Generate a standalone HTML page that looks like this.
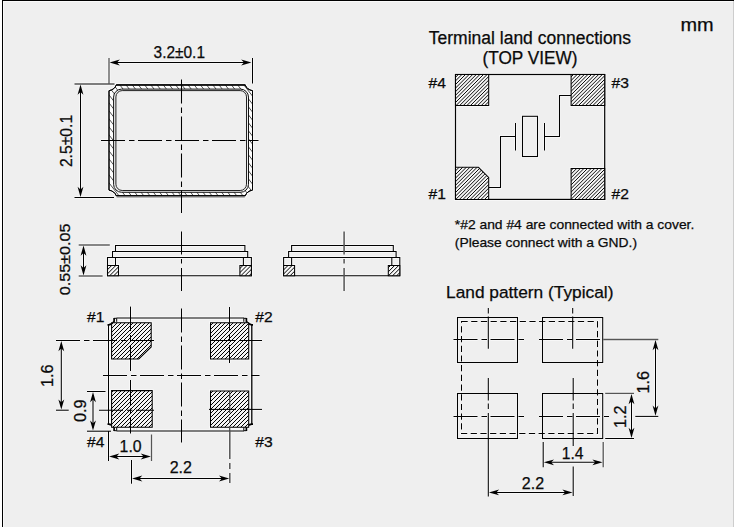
<!DOCTYPE html>
<html><head><meta charset="utf-8"><title>Dimensions</title>
<style>
html,body{margin:0;padding:0;background:#fff;}
body{width:734px;height:527px;overflow:hidden;position:relative;}
svg{position:absolute;left:0;top:0;display:block;}
text{font-family:"Liberation Sans",Arial,Helvetica,sans-serif;fill:#0a0a0a;stroke:#0a0a0a;stroke-width:0.25px;}
</style></head><body>
<svg width="734" height="527" viewBox="0 0 734 527">
<defs>
<pattern id="hbot" patternUnits="userSpaceOnUse" width="2.8284" height="10" patternTransform="rotate(45)"><rect width="2.8284" height="10" fill="#f6f6f6"/><line x1="1" y1="0" x2="1" y2="10" stroke="#000" stroke-width="0.85"/></pattern>
<pattern id="hterm" patternUnits="userSpaceOnUse" width="2.55" height="10" patternTransform="rotate(45)"><rect width="2.55" height="10" fill="#f6f6f6"/><line x1="1" y1="0" x2="1" y2="10" stroke="#000" stroke-width="0.8"/></pattern>
<pattern id="hside" patternUnits="userSpaceOnUse" width="2.9" height="10" patternTransform="rotate(45)"><rect width="2.9" height="10" fill="#f8f8f8"/><line x1="1" y1="0" x2="1" y2="10" stroke="#000" stroke-width="0.95"/></pattern>
<pattern id="hband" patternUnits="userSpaceOnUse" width="4.9" height="10" patternTransform="rotate(-38)"><rect width="4.9" height="10" fill="#fdfdfd"/><line x1="1" y1="0" x2="1" y2="10" stroke="#222" stroke-width="0.8"/></pattern>
</defs>
<rect x="0" y="0" width="734" height="527" fill="#fff"/>
<rect x="3" y="1" width="731" height="526" fill="#fafafa"/>
<rect x="4" y="2" width="730" height="525" fill="#efefef"/>
<rect x="733" y="1" width="1" height="526" fill="#cdcdcd"/>
<rect x="2" y="0" width="1" height="527" fill="#000"/>
<rect x="2" y="0" width="732" height="1" fill="#000"/>
<g fill="none" stroke="#fff" opacity="0.55"><path d="M116.2,85.1 L245.3,85.1 Q246.884,89.58 252.5,90.69999999999999 L252.5,190.1 Q246.884,191.22 245.3,195.7 L116.2,195.7 Q114.616,191.22 109.0,190.1 L109.0,90.69999999999999 Q114.616,89.58 116.2,85.1 Z" stroke-width="3.0"/>
<path d="M116.2,85.1 L245.3,85.1 Q246.884,89.58 252.5,90.69999999999999 L252.5,190.1 Q246.884,191.22 245.3,195.7 L116.2,195.7 Q114.616,191.22 109.0,190.1 L109.0,90.69999999999999 Q114.616,89.58 116.2,85.1 Z" stroke-width="3.0"/>
<line x1="116.2" y1="84.5" x2="245.3" y2="84.5" stroke-width="2.9"/>
<line x1="116.7" y1="196.9" x2="244.8" y2="196.9" stroke-width="3.0"/>
<rect x="113.6" y="89.1" width="134.9" height="103.2" stroke-width="3.0" rx="8"/>
<rect x="115.9" y="90.6" width="130.6" height="99.9" stroke-width="3.0" rx="6.3"/>
<line x1="181.5" y1="79.5" x2="181.5" y2="213" stroke-width="3.05" stroke-dasharray="24 4 5.5 3.5"/>
<line x1="101" y1="140.5" x2="258.5" y2="140.5" stroke-width="3.05" stroke-dasharray="24 4 5.5 3.5"/>
<line x1="109" y1="58" x2="109" y2="84" stroke-width="3.3"/>
<line x1="252.5" y1="58" x2="252.5" y2="83.5" stroke-width="3.05"/>
<line x1="113" y1="62.5" x2="248" y2="62.5" stroke-width="3.05"/>
<line x1="74.5" y1="84" x2="114.5" y2="84" stroke-width="3.3"/>
<line x1="74.5" y1="197.5" x2="114" y2="197.5" stroke-width="3.05"/>
<line x1="80.5" y1="88" x2="80.5" y2="193.5" stroke-width="3.05"/>
<path d="M115.5,251.5 L115.5,245.5 L244.9,245.5 L244.9,251.5" stroke-width="3.05"/>
<path d="M112.5,257.5 L112.5,251.5 L247.70000000000002,251.5 L247.70000000000002,257.5" stroke-width="3.05"/>
<path d="M107.5,275.8 L107.5,257.5 L251.4,257.5 L251.4,275.8 Z" stroke-width="3.05"/>
<path d="M107.5,265.5 L118.5,265.5 L118.5,275.8 L107.5,275.8 Z" stroke-width="3.05"/>
<path d="M239.9,265.5 L251.4,265.5 L251.4,275.8 L239.9,275.8 Z" stroke-width="3.05"/>
<line x1="115.5" y1="257.5" x2="115.5" y2="265.5" stroke-width="3.05"/>
<line x1="243.4" y1="257.5" x2="243.4" y2="265.5" stroke-width="3.05"/>
<line x1="181.5" y1="231.5" x2="181.5" y2="291.3" stroke-width="3.05" stroke-dasharray="23 4.5 4.5 4.5"/>
<path d="M291.6,251.5 L291.6,245.5 L393.3,245.5 L393.3,251.5" stroke-width="3.05"/>
<path d="M288.6,257.5 L288.6,251.5 L396.1,251.5 L396.1,257.5" stroke-width="3.05"/>
<path d="M283.6,275.8 L283.6,257.5 L399.8,257.5 L399.8,275.8 Z" stroke-width="3.05"/>
<path d="M283.6,265.5 L294.6,265.5 L294.6,275.8 L283.6,275.8 Z" stroke-width="3.05"/>
<path d="M388.3,265.5 L399.8,265.5 L399.8,275.8 L388.3,275.8 Z" stroke-width="3.05"/>
<line x1="291.6" y1="257.5" x2="291.6" y2="265.5" stroke-width="3.05"/>
<line x1="391.8" y1="257.5" x2="391.8" y2="265.5" stroke-width="3.05"/>
<line x1="344.1" y1="231.5" x2="344.1" y2="291.3" stroke-width="3.5" stroke-dasharray="23 4.5 4.5 4.5"/>
<line x1="78.7" y1="245" x2="109.8" y2="245" stroke-width="3.4"/>
<line x1="78.7" y1="276" x2="102.6" y2="276" stroke-width="3.4"/>
<line x1="83.5" y1="249" x2="83.5" y2="272" stroke-width="3.05"/>
<line x1="116.5" y1="318.0" x2="244.0" y2="318.0" stroke-width="3.4"/>
<line x1="116.5" y1="431.0" x2="244.0" y2="431.0" stroke-width="3.4"/>
<line x1="108.5" y1="325.0" x2="108.5" y2="424.0" stroke-width="3.05"/>
<line x1="251.8" y1="325.0" x2="251.8" y2="424.0" stroke-width="3.3"/>
<path d="M107.5,324.8 L108.8,324.8 Q113.1,324.0 114.1,321.4 L114.1,318.1" stroke-width="3.7"/>
<path d="M114.1,318.3 L116.7,318.3 L116.7,321.8" stroke-width="3.0"/>
<path d="M253.0,324.8 L251.7,324.8 Q247.4,324.0 246.4,321.4 L246.4,318.1" stroke-width="3.7"/>
<path d="M246.4,318.3 L243.8,318.3 L243.8,321.8" stroke-width="3.0"/>
<path d="M107.5,424.2 L108.8,424.2 Q113.1,425.0 114.1,427.6 L114.1,430.9" stroke-width="3.7"/>
<path d="M114.1,430.7 L116.7,430.7 L116.7,427.2" stroke-width="3.0"/>
<path d="M253.0,424.2 L251.7,424.2 Q247.4,425.0 246.4,427.6 L246.4,430.9" stroke-width="3.7"/>
<path d="M246.4,430.7 L243.8,430.7 L243.8,427.2" stroke-width="3.0"/>
<path d="M111.6,322.8 L151.2,322.8 L151.2,347 L138.8,359 L111.6,359 Z" stroke-width="3.05"/>
<path d="M210.5,322.8 L248.7,322.8 L248.7,359 L210.5,359 Z" stroke-width="3.05"/>
<path d="M111.6,390.6 L152.2,390.6 L152.2,427.3 L111.6,427.3 Z" stroke-width="3.05"/>
<path d="M210.5,391 L248.7,391 L248.7,427.3 L210.5,427.3 Z" stroke-width="3.05"/>
<line x1="181.5" y1="308.5" x2="181.5" y2="442.5" stroke-width="3.05" stroke-dasharray="24 4 5.5 3.5"/>
<line x1="103" y1="375.5" x2="259.5" y2="375.5" stroke-width="3.05" stroke-dasharray="24 4 5.5 3.5"/>
<line x1="130.5" y1="306.6" x2="130.5" y2="331" stroke-width="3.05"/>
<line x1="130.5" y1="335" x2="130.5" y2="341" stroke-width="3.05"/>
<line x1="130.5" y1="345" x2="130.5" y2="371" stroke-width="3.05"/>
<line x1="130.5" y1="380" x2="130.5" y2="405" stroke-width="3.05"/>
<line x1="130.5" y1="408.5" x2="130.5" y2="414" stroke-width="3.05"/>
<line x1="130.5" y1="418" x2="130.5" y2="433.5" stroke-width="3.05"/>
<line x1="131.5" y1="460" x2="131.5" y2="483.7" stroke-width="3.05"/>
<line x1="229.5" y1="307" x2="229.5" y2="331" stroke-width="3.05"/>
<line x1="229.5" y1="335" x2="229.5" y2="341" stroke-width="3.05"/>
<line x1="229.5" y1="345" x2="229.5" y2="363" stroke-width="3.05"/>
<line x1="229.7" y1="391" x2="229.7" y2="431" stroke-width="3.2" stroke-dasharray="22 4 5.5 3.5"/>
<line x1="229.8" y1="431" x2="229.8" y2="483" stroke-width="3.5" stroke-dasharray="28 4 6 4"/>
<line x1="56" y1="340.5" x2="154" y2="340.5" stroke-width="3.05" stroke-dasharray="24 4 5.5 3.5"/>
<line x1="210.4" y1="340.5" x2="236" y2="340.5" stroke-width="3.05"/>
<line x1="240" y1="340.5" x2="262" y2="340.5" stroke-width="3.05"/>
<line x1="56" y1="410.2" x2="68.7" y2="410.2" stroke-width="3.05"/>
<line x1="99" y1="410.2" x2="154" y2="410.2" stroke-width="3.05" stroke-dasharray="24 4 5.5 3.5"/>
<line x1="209" y1="409.4" x2="236" y2="409.4" stroke-width="3.05"/>
<line x1="240" y1="409.4" x2="262" y2="409.4" stroke-width="3.05"/>
<line x1="61.3" y1="344.5" x2="61.3" y2="406.2" stroke-width="3.05"/>
<line x1="87" y1="391.5" x2="105.5" y2="391.5" stroke-width="3.05"/>
<line x1="87" y1="431.2" x2="111" y2="431.2" stroke-width="3.05"/>
<line x1="93" y1="395.5" x2="93" y2="427.2" stroke-width="3.05"/>
<line x1="108.5" y1="431" x2="108.5" y2="461" stroke-width="3.05"/>
<line x1="151.5" y1="434.5" x2="151.5" y2="461" stroke-width="3.3"/>
<line x1="112.5" y1="456.5" x2="147.5" y2="456.5" stroke-width="3.05"/>
<line x1="135.5" y1="478.5" x2="225.8" y2="478.5" stroke-width="3.05"/>
<rect x="455.5" y="74.5" width="149.2" height="124.9" stroke-width="3.2"/>
<path d="M455.5,74.5 L488.7,74.5 L488.7,105.4 L455.5,105.4 Z" stroke-width="3.05"/>
<path d="M571.1,74.5 L604.7,74.5 L604.7,105.4 L571.1,105.4 Z" stroke-width="3.05"/>
<path d="M455.5,167.3 L478.5,167.3 L488.7,177.5 L488.7,199.4 L455.5,199.4 Z" stroke-width="3.05"/>
<path d="M571.1,168.5 L604.7,168.5 L604.7,199.4 L571.1,199.4 Z" stroke-width="3.05"/>
<rect x="522.5" y="116.3" width="15.0" height="40.2" stroke-width="3.05"/>
<line x1="515.5" y1="123" x2="515.5" y2="150.5" stroke-width="3.05"/>
<line x1="544.5" y1="123" x2="544.5" y2="150.5" stroke-width="3.05"/>
<path d="M515.5,136.5 L500.5,136.5 L500.5,187.5 L488.7,187.5" stroke-width="3.05"/>
<path d="M544.5,136.5 L559.5,136.5 L559.5,95.5 L571.1,95.5" stroke-width="3.05"/>
<rect x="457.5" y="317.5" width="60.0" height="45.0" stroke-width="3.05"/>
<rect x="542.5" y="317.5" width="60.2" height="45.0" stroke-width="3.05"/>
<rect x="457.5" y="393.5" width="60.0" height="45.0" stroke-width="3.05"/>
<rect x="542.5" y="393.5" width="60.2" height="45.0" stroke-width="3.05"/>
<rect x="461.5" y="321.5" width="136.0" height="112.0" stroke-width="3.05" stroke-dasharray="6.2 3.5"/>
<line x1="488.3" y1="308" x2="488.3" y2="313.5" stroke-width="3.05"/>
<line x1="488.3" y1="316.5" x2="488.3" y2="348.8" stroke-width="3.05"/>
<line x1="572.7" y1="308" x2="572.7" y2="313.5" stroke-width="3.05"/>
<line x1="572.7" y1="316.5" x2="572.7" y2="348.8" stroke-width="3.05"/>
<line x1="488.3" y1="378" x2="488.3" y2="400.5" stroke-width="3.05"/>
<line x1="488.3" y1="403.5" x2="488.3" y2="409" stroke-width="3.05"/>
<line x1="573.2" y1="378" x2="573.2" y2="400.5" stroke-width="3.05"/>
<line x1="573.2" y1="403.5" x2="573.2" y2="409" stroke-width="3.05"/>
<line x1="488.3" y1="413" x2="488.3" y2="496.5" stroke-width="3.05"/>
<line x1="573.2" y1="413" x2="573.2" y2="446" stroke-width="3.05"/>
<line x1="573.2" y1="466.4" x2="573.2" y2="496" stroke-width="3.05"/>
<line x1="453.5" y1="339.5" x2="525" y2="339.5" stroke-width="3.05" stroke-dasharray="24 4 5.5 3.5"/>
<line x1="539" y1="339.5" x2="609" y2="339.5" stroke-width="3.05" stroke-dasharray="24 4 5.5 3.5"/>
<line x1="453.5" y1="416.4" x2="525" y2="416.4" stroke-width="3.05" stroke-dasharray="24 4 5.5 3.5"/>
<line x1="539" y1="416.4" x2="609" y2="416.4" stroke-width="3.05" stroke-dasharray="24 4 5.5 3.5"/>
<line x1="603.2" y1="339.5" x2="658.3" y2="339.5" stroke-width="3.3"/>
<line x1="635.3" y1="416.4" x2="658.3" y2="416.4" stroke-width="3.05"/>
<line x1="655.5" y1="343.5" x2="655.5" y2="412.4" stroke-width="3.05"/>
<line x1="605.2" y1="393.4" x2="634" y2="393.4" stroke-width="3.3"/>
<line x1="605.2" y1="438.5" x2="634" y2="438.5" stroke-width="3.05"/>
<line x1="631.5" y1="397.4" x2="631.5" y2="434.5" stroke-width="3.05"/>
<line x1="543.2" y1="442" x2="543.2" y2="467.3" stroke-width="3.05"/>
<line x1="603.2" y1="442" x2="603.2" y2="467.3" stroke-width="3.3"/>
<line x1="547.2" y1="462.3" x2="599.2" y2="462.3" stroke-width="3.05"/>
<line x1="492.3" y1="492.4" x2="569.2" y2="492.4" stroke-width="3.05"/></g>
<clipPath id="cband"><path d="M116.2,85.1 L245.3,85.1 Q246.884,89.58 252.5,90.69999999999999 L252.5,190.1 Q246.884,191.22 245.3,195.7 L116.2,195.7 Q114.616,191.22 109.0,190.1 L109.0,90.69999999999999 Q114.616,89.58 116.2,85.1 Z"/></clipPath>
<path d="M116.2,85.1 L245.3,85.1 Q246.884,89.58 252.5,90.69999999999999 L252.5,190.1 Q246.884,191.22 245.3,195.7 L116.2,195.7 Q114.616,191.22 109.0,190.1 L109.0,90.69999999999999 Q114.616,89.58 116.2,85.1 Z" fill="#fdfdfd" stroke="#000" stroke-width="1.0"/>
<path d="M-11.00,84.10 L76.29,196.70 M-4.80,84.10 L82.49,196.70 M1.40,84.10 L88.69,196.70 M7.60,84.10 L94.89,196.70 M13.80,84.10 L101.09,196.70 M20.00,84.10 L107.29,196.70 M26.20,84.10 L113.49,196.70 M32.40,84.10 L119.69,196.70 M38.60,84.10 L125.89,196.70 M44.80,84.10 L132.09,196.70 M51.00,84.10 L138.29,196.70 M57.20,84.10 L144.49,196.70 M63.40,84.10 L150.69,196.70 M69.60,84.10 L156.89,196.70 M75.80,84.10 L163.09,196.70 M82.00,84.10 L169.29,196.70 M88.20,84.10 L175.49,196.70 M94.40,84.10 L181.69,196.70 M100.60,84.10 L187.89,196.70 M106.80,84.10 L194.09,196.70 M113.00,84.10 L200.29,196.70 M119.20,84.10 L206.49,196.70 M125.40,84.10 L212.69,196.70 M131.60,84.10 L218.89,196.70 M137.80,84.10 L225.09,196.70 M144.00,84.10 L231.29,196.70 M150.20,84.10 L237.49,196.70 M156.40,84.10 L243.69,196.70 M162.60,84.10 L249.89,196.70 M168.80,84.10 L256.09,196.70 M175.00,84.10 L262.29,196.70 M181.20,84.10 L268.49,196.70 M187.40,84.10 L274.69,196.70 M193.60,84.10 L280.89,196.70 M199.80,84.10 L287.09,196.70 M206.00,84.10 L293.29,196.70 M212.20,84.10 L299.49,196.70 M218.40,84.10 L305.69,196.70 M224.60,84.10 L311.89,196.70 M230.80,84.10 L318.09,196.70 M237.00,84.10 L324.29,196.70 M243.20,84.10 L330.49,196.70 M249.40,84.10 L336.69,196.70 M255.60,84.10 L342.89,196.70 M261.80,84.10 L349.09,196.70" stroke="#222" stroke-width="0.8" fill="none" clip-path="url(#cband)"/>
<path d="M116.2,85.1 L245.3,85.1 Q246.884,89.58 252.5,90.69999999999999 L252.5,190.1 Q246.884,191.22 245.3,195.7 L116.2,195.7 Q114.616,191.22 109.0,190.1 L109.0,90.69999999999999 Q114.616,89.58 116.2,85.1 Z" fill="none" stroke="#000" stroke-width="1.0"/>
<line x1="116.2" y1="84.5" x2="245.3" y2="84.5" stroke="#111" stroke-width="0.9"/>
<line x1="116.7" y1="196.9" x2="244.8" y2="196.9" stroke="#555" stroke-width="1.0"/>
<rect x="113.6" y="89.1" width="134.9" height="103.2" fill="#efefef" stroke="#111" stroke-width="1" rx="8"/>
<rect x="115.9" y="90.6" width="130.6" height="99.9" fill="#efefef" stroke="#222" stroke-width="1" rx="6.3"/>
<line x1="181.5" y1="79.5" x2="181.5" y2="213" stroke="#000" stroke-width="1.05" stroke-dasharray="24 4 5.5 3.5"/>
<line x1="101" y1="140.5" x2="258.5" y2="140.5" stroke="#000" stroke-width="1.05" stroke-dasharray="24 4 5.5 3.5"/>
<line x1="109" y1="58" x2="109" y2="84" stroke="#555" stroke-width="1.3"/>
<line x1="252.5" y1="58" x2="252.5" y2="83.5" stroke="#000" stroke-width="1.05"/>
<line x1="113" y1="62.5" x2="248" y2="62.5" stroke="#000" stroke-width="1.05"/>
<polygon points="109.60,62.50 119.80,59.60 117.00,62.50 119.80,65.40" fill="#000"/>
<polygon points="251.40,62.50 241.20,65.40 244.00,62.50 241.20,59.60" fill="#000"/>
<text x="179.3" y="58" font-size="16" text-anchor="middle" textLength="51.4" lengthAdjust="spacingAndGlyphs">3.2±0.1</text>
<line x1="74.5" y1="84" x2="114.5" y2="84" stroke="#555" stroke-width="1.3"/>
<line x1="74.5" y1="197.5" x2="114" y2="197.5" stroke="#000" stroke-width="1.05"/>
<line x1="80.5" y1="88" x2="80.5" y2="193.5" stroke="#000" stroke-width="1.05"/>
<polygon points="80.50,84.60 83.40,94.80 80.50,92.00 77.60,94.80" fill="#000"/>
<polygon points="80.50,196.90 77.60,186.70 80.50,189.50 83.40,186.70" fill="#000"/>
<text x="71.6" y="141.0" font-size="16" text-anchor="middle" textLength="52.2" lengthAdjust="spacingAndGlyphs" transform="rotate(-90 71.6 141.0)">2.5±0.1</text>
<path d="M115.5,251.5 L115.5,245.5 L244.9,245.5 L244.9,251.5" fill="none" stroke="#000" stroke-width="1.05"/>
<path d="M112.5,257.5 L112.5,251.5 L247.70000000000002,251.5 L247.70000000000002,257.5" fill="none" stroke="#000" stroke-width="1.05"/>
<path d="M107.5,275.8 L107.5,257.5 L251.4,257.5 L251.4,275.8 Z" fill="none" stroke="#000" stroke-width="1.05"/>
<clipPath id="c1"><path d="M107.5,265.5 L118.5,265.5 L118.5,275.8 L107.5,275.8 Z"/></clipPath>
<path d="M107.5,265.5 L118.5,265.5 L118.5,275.8 L107.5,275.8 Z" fill="#f8f8f8" stroke="none"/>
<path d="M92.20,276.80 L104.50,264.50 M96.30,276.80 L108.60,264.50 M100.40,276.80 L112.70,264.50 M104.50,276.80 L116.80,264.50 M108.60,276.80 L120.90,264.50 M112.70,276.80 L125.00,264.50 M116.80,276.80 L129.10,264.50 M120.90,276.80 L133.20,264.50" stroke="#000" stroke-width="1.0" fill="none" clip-path="url(#c1)"/>
<path d="M107.5,265.5 L118.5,265.5 L118.5,275.8 L107.5,275.8 Z" fill="none" stroke="#000" stroke-width="1.05"/>
<clipPath id="c2"><path d="M239.9,265.5 L251.4,265.5 L251.4,275.8 L239.9,275.8 Z"/></clipPath>
<path d="M239.9,265.5 L251.4,265.5 L251.4,275.8 L239.9,275.8 Z" fill="#f8f8f8" stroke="none"/>
<path d="M227.50,276.80 L239.80,264.50 M231.60,276.80 L243.90,264.50 M235.70,276.80 L248.00,264.50 M239.80,276.80 L252.10,264.50 M243.90,276.80 L256.20,264.50 M248.00,276.80 L260.30,264.50 M252.10,276.80 L264.40,264.50" stroke="#000" stroke-width="1.0" fill="none" clip-path="url(#c2)"/>
<path d="M239.9,265.5 L251.4,265.5 L251.4,275.8 L239.9,275.8 Z" fill="none" stroke="#000" stroke-width="1.05"/>
<line x1="115.5" y1="257.5" x2="115.5" y2="265.5" stroke="#000" stroke-width="1.05"/>
<line x1="243.4" y1="257.5" x2="243.4" y2="265.5" stroke="#000" stroke-width="1.05"/>
<line x1="181.5" y1="231.5" x2="181.5" y2="291.3" stroke="#000" stroke-width="1.05" stroke-dasharray="23 4.5 4.5 4.5"/>
<path d="M291.6,251.5 L291.6,245.5 L393.3,245.5 L393.3,251.5" fill="none" stroke="#000" stroke-width="1.05"/>
<path d="M288.6,257.5 L288.6,251.5 L396.1,251.5 L396.1,257.5" fill="none" stroke="#000" stroke-width="1.05"/>
<path d="M283.6,275.8 L283.6,257.5 L399.8,257.5 L399.8,275.8 Z" fill="none" stroke="#000" stroke-width="1.05"/>
<clipPath id="c3"><path d="M283.6,265.5 L294.6,265.5 L294.6,275.8 L283.6,275.8 Z"/></clipPath>
<path d="M283.6,265.5 L294.6,265.5 L294.6,275.8 L283.6,275.8 Z" fill="#f8f8f8" stroke="none"/>
<path d="M268.50,276.80 L280.80,264.50 M272.60,276.80 L284.90,264.50 M276.70,276.80 L289.00,264.50 M280.80,276.80 L293.10,264.50 M284.90,276.80 L297.20,264.50 M289.00,276.80 L301.30,264.50 M293.10,276.80 L305.40,264.50 M297.20,276.80 L309.50,264.50" stroke="#000" stroke-width="1.0" fill="none" clip-path="url(#c3)"/>
<path d="M283.6,265.5 L294.6,265.5 L294.6,275.8 L283.6,275.8 Z" fill="none" stroke="#000" stroke-width="1.05"/>
<clipPath id="c4"><path d="M388.3,265.5 L399.8,265.5 L399.8,275.8 L388.3,275.8 Z"/></clipPath>
<path d="M388.3,265.5 L399.8,265.5 L399.8,275.8 L388.3,275.8 Z" fill="#f8f8f8" stroke="none"/>
<path d="M375.10,276.80 L387.40,264.50 M379.20,276.80 L391.50,264.50 M383.30,276.80 L395.60,264.50 M387.40,276.80 L399.70,264.50 M391.50,276.80 L403.80,264.50 M395.60,276.80 L407.90,264.50 M399.70,276.80 L412.00,264.50" stroke="#000" stroke-width="1.0" fill="none" clip-path="url(#c4)"/>
<path d="M388.3,265.5 L399.8,265.5 L399.8,275.8 L388.3,275.8 Z" fill="none" stroke="#000" stroke-width="1.05"/>
<line x1="291.6" y1="257.5" x2="291.6" y2="265.5" stroke="#000" stroke-width="1.05"/>
<line x1="391.8" y1="257.5" x2="391.8" y2="265.5" stroke="#000" stroke-width="1.05"/>
<line x1="344.1" y1="231.5" x2="344.1" y2="291.3" stroke="#555" stroke-width="1.5" stroke-dasharray="23 4.5 4.5 4.5"/>
<line x1="78.7" y1="245" x2="109.8" y2="245" stroke="#555" stroke-width="1.4"/>
<line x1="78.7" y1="276" x2="102.6" y2="276" stroke="#555" stroke-width="1.4"/>
<line x1="83.5" y1="249" x2="83.5" y2="272" stroke="#000" stroke-width="1.05"/>
<polygon points="83.50,245.60 86.40,255.80 83.50,253.00 80.60,255.80" fill="#000"/>
<polygon points="83.50,275.40 80.60,265.20 83.50,268.00 86.40,265.20" fill="#000"/>
<text x="69.8" y="259.4" font-size="15.5" text-anchor="middle" textLength="71.5" lengthAdjust="spacingAndGlyphs" transform="rotate(-90 69.8 259.4)">0.55±0.05</text>
<line x1="116.5" y1="318.0" x2="244.0" y2="318.0" stroke="#555" stroke-width="1.4"/>
<line x1="116.5" y1="431.0" x2="244.0" y2="431.0" stroke="#555" stroke-width="1.4"/>
<line x1="108.5" y1="325.0" x2="108.5" y2="424.0" stroke="#000" stroke-width="1.05"/>
<line x1="251.8" y1="325.0" x2="251.8" y2="424.0" stroke="#000" stroke-width="1.3"/>
<path d="M107.5,324.8 L108.8,324.8 Q113.1,324.0 114.1,321.4 L114.1,318.1" fill="none" stroke="#000" stroke-width="1.7"/>
<path d="M114.1,318.3 L116.7,318.3 L116.7,321.8" fill="none" stroke="#000" stroke-width="1.0"/>
<path d="M253.0,324.8 L251.7,324.8 Q247.4,324.0 246.4,321.4 L246.4,318.1" fill="none" stroke="#000" stroke-width="1.7"/>
<path d="M246.4,318.3 L243.8,318.3 L243.8,321.8" fill="none" stroke="#000" stroke-width="1.0"/>
<path d="M107.5,424.2 L108.8,424.2 Q113.1,425.0 114.1,427.6 L114.1,430.9" fill="none" stroke="#000" stroke-width="1.7"/>
<path d="M114.1,430.7 L116.7,430.7 L116.7,427.2" fill="none" stroke="#000" stroke-width="1.0"/>
<path d="M253.0,424.2 L251.7,424.2 Q247.4,425.0 246.4,427.6 L246.4,430.9" fill="none" stroke="#000" stroke-width="1.7"/>
<path d="M246.4,430.7 L243.8,430.7 L243.8,427.2" fill="none" stroke="#000" stroke-width="1.0"/>
<clipPath id="c5"><path d="M111.6,322.8 L151.2,322.8 L151.2,347 L138.8,359 L111.6,359 Z"/></clipPath>
<path d="M111.6,322.8 L151.2,322.8 L151.2,347 L138.8,359 L111.6,359 Z" fill="#f4f4f4" stroke="none"/>
<path d="M72.00,360.00 L110.20,321.80 M76.00,360.00 L114.20,321.80 M80.00,360.00 L118.20,321.80 M84.00,360.00 L122.20,321.80 M88.00,360.00 L126.20,321.80 M92.00,360.00 L130.20,321.80 M96.00,360.00 L134.20,321.80 M100.00,360.00 L138.20,321.80 M104.00,360.00 L142.20,321.80 M108.00,360.00 L146.20,321.80 M112.00,360.00 L150.20,321.80 M116.00,360.00 L154.20,321.80 M120.00,360.00 L158.20,321.80 M124.00,360.00 L162.20,321.80 M128.00,360.00 L166.20,321.80 M132.00,360.00 L170.20,321.80 M136.00,360.00 L174.20,321.80 M140.00,360.00 L178.20,321.80 M144.00,360.00 L182.20,321.80 M148.00,360.00 L186.20,321.80 M152.00,360.00 L190.20,321.80" stroke="#000" stroke-width="1.0" fill="none" clip-path="url(#c5)"/>
<path d="M111.6,322.8 L151.2,322.8 L151.2,347 L138.8,359 L111.6,359 Z" fill="none" stroke="#000" stroke-width="1.05"/>
<clipPath id="c6"><path d="M210.5,322.8 L248.7,322.8 L248.7,359 L210.5,359 Z"/></clipPath>
<path d="M210.5,322.8 L248.7,322.8 L248.7,359 L210.5,359 Z" fill="#f4f4f4" stroke="none"/>
<path d="M172.00,360.00 L210.20,321.80 M176.00,360.00 L214.20,321.80 M180.00,360.00 L218.20,321.80 M184.00,360.00 L222.20,321.80 M188.00,360.00 L226.20,321.80 M192.00,360.00 L230.20,321.80 M196.00,360.00 L234.20,321.80 M200.00,360.00 L238.20,321.80 M204.00,360.00 L242.20,321.80 M208.00,360.00 L246.20,321.80 M212.00,360.00 L250.20,321.80 M216.00,360.00 L254.20,321.80 M220.00,360.00 L258.20,321.80 M224.00,360.00 L262.20,321.80 M228.00,360.00 L266.20,321.80 M232.00,360.00 L270.20,321.80 M236.00,360.00 L274.20,321.80 M240.00,360.00 L278.20,321.80 M244.00,360.00 L282.20,321.80 M248.00,360.00 L286.20,321.80" stroke="#000" stroke-width="1.0" fill="none" clip-path="url(#c6)"/>
<path d="M210.5,322.8 L248.7,322.8 L248.7,359 L210.5,359 Z" fill="none" stroke="#000" stroke-width="1.05"/>
<clipPath id="c7"><path d="M111.6,390.6 L152.2,390.6 L152.2,427.3 L111.6,427.3 Z"/></clipPath>
<path d="M111.6,390.6 L152.2,390.6 L152.2,427.3 L111.6,427.3 Z" fill="#f4f4f4" stroke="none"/>
<path d="M71.70,428.30 L110.40,389.60 M75.70,428.30 L114.40,389.60 M79.70,428.30 L118.40,389.60 M83.70,428.30 L122.40,389.60 M87.70,428.30 L126.40,389.60 M91.70,428.30 L130.40,389.60 M95.70,428.30 L134.40,389.60 M99.70,428.30 L138.40,389.60 M103.70,428.30 L142.40,389.60 M107.70,428.30 L146.40,389.60 M111.70,428.30 L150.40,389.60 M115.70,428.30 L154.40,389.60 M119.70,428.30 L158.40,389.60 M123.70,428.30 L162.40,389.60 M127.70,428.30 L166.40,389.60 M131.70,428.30 L170.40,389.60 M135.70,428.30 L174.40,389.60 M139.70,428.30 L178.40,389.60 M143.70,428.30 L182.40,389.60 M147.70,428.30 L186.40,389.60 M151.70,428.30 L190.40,389.60" stroke="#000" stroke-width="1.0" fill="none" clip-path="url(#c7)"/>
<path d="M111.6,390.6 L152.2,390.6 L152.2,427.3 L111.6,427.3 Z" fill="none" stroke="#000" stroke-width="1.05"/>
<clipPath id="c8"><path d="M210.5,391 L248.7,391 L248.7,427.3 L210.5,427.3 Z"/></clipPath>
<path d="M210.5,391 L248.7,391 L248.7,427.3 L210.5,427.3 Z" fill="#f4f4f4" stroke="none"/>
<path d="M171.70,428.30 L210.00,390.00 M175.70,428.30 L214.00,390.00 M179.70,428.30 L218.00,390.00 M183.70,428.30 L222.00,390.00 M187.70,428.30 L226.00,390.00 M191.70,428.30 L230.00,390.00 M195.70,428.30 L234.00,390.00 M199.70,428.30 L238.00,390.00 M203.70,428.30 L242.00,390.00 M207.70,428.30 L246.00,390.00 M211.70,428.30 L250.00,390.00 M215.70,428.30 L254.00,390.00 M219.70,428.30 L258.00,390.00 M223.70,428.30 L262.00,390.00 M227.70,428.30 L266.00,390.00 M231.70,428.30 L270.00,390.00 M235.70,428.30 L274.00,390.00 M239.70,428.30 L278.00,390.00 M243.70,428.30 L282.00,390.00 M247.70,428.30 L286.00,390.00" stroke="#000" stroke-width="1.0" fill="none" clip-path="url(#c8)"/>
<path d="M210.5,391 L248.7,391 L248.7,427.3 L210.5,427.3 Z" fill="none" stroke="#000" stroke-width="1.05"/>
<line x1="181.5" y1="308.5" x2="181.5" y2="442.5" stroke="#000" stroke-width="1.05" stroke-dasharray="24 4 5.5 3.5"/>
<line x1="103" y1="375.5" x2="259.5" y2="375.5" stroke="#000" stroke-width="1.05" stroke-dasharray="24 4 5.5 3.5"/>
<line x1="130.5" y1="306.6" x2="130.5" y2="331" stroke="#000" stroke-width="1.05"/>
<line x1="130.5" y1="335" x2="130.5" y2="341" stroke="#000" stroke-width="1.05"/>
<line x1="130.5" y1="345" x2="130.5" y2="371" stroke="#000" stroke-width="1.05"/>
<line x1="130.5" y1="380" x2="130.5" y2="405" stroke="#000" stroke-width="1.05"/>
<line x1="130.5" y1="408.5" x2="130.5" y2="414" stroke="#000" stroke-width="1.05"/>
<line x1="130.5" y1="418" x2="130.5" y2="433.5" stroke="#000" stroke-width="1.05"/>
<line x1="131.5" y1="460" x2="131.5" y2="483.7" stroke="#000" stroke-width="1.05"/>
<line x1="229.5" y1="307" x2="229.5" y2="331" stroke="#000" stroke-width="1.05"/>
<line x1="229.5" y1="335" x2="229.5" y2="341" stroke="#000" stroke-width="1.05"/>
<line x1="229.5" y1="345" x2="229.5" y2="363" stroke="#000" stroke-width="1.05"/>
<line x1="229.7" y1="391" x2="229.7" y2="431" stroke="#444" stroke-width="1.2" stroke-dasharray="22 4 5.5 3.5"/>
<line x1="229.8" y1="431" x2="229.8" y2="483" stroke="#555" stroke-width="1.5" stroke-dasharray="28 4 6 4"/>
<line x1="56" y1="340.5" x2="154" y2="340.5" stroke="#000" stroke-width="1.05" stroke-dasharray="24 4 5.5 3.5"/>
<line x1="210.4" y1="340.5" x2="236" y2="340.5" stroke="#000" stroke-width="1.05"/>
<line x1="240" y1="340.5" x2="262" y2="340.5" stroke="#000" stroke-width="1.05"/>
<line x1="56" y1="410.2" x2="68.7" y2="410.2" stroke="#000" stroke-width="1.05"/>
<line x1="99" y1="410.2" x2="154" y2="410.2" stroke="#000" stroke-width="1.05" stroke-dasharray="24 4 5.5 3.5"/>
<line x1="209" y1="409.4" x2="236" y2="409.4" stroke="#000" stroke-width="1.05"/>
<line x1="240" y1="409.4" x2="262" y2="409.4" stroke="#000" stroke-width="1.05"/>
<line x1="61.3" y1="344.5" x2="61.3" y2="406.2" stroke="#000" stroke-width="1.05"/>
<polygon points="61.30,341.10 64.20,351.30 61.30,348.50 58.40,351.30" fill="#000"/>
<polygon points="61.30,409.60 58.40,399.40 61.30,402.20 64.20,399.40" fill="#000"/>
<text x="53.0" y="375.8" font-size="16.3" text-anchor="middle" textLength="22.6" lengthAdjust="spacingAndGlyphs" transform="rotate(-90 53.0 375.8)">1.6</text>
<line x1="87" y1="391.5" x2="105.5" y2="391.5" stroke="#000" stroke-width="1.05"/>
<line x1="87" y1="431.2" x2="111" y2="431.2" stroke="#000" stroke-width="1.05"/>
<line x1="93" y1="395.5" x2="93" y2="427.2" stroke="#000" stroke-width="1.05"/>
<polygon points="93.00,392.10 95.90,402.30 93.00,399.50 90.10,402.30" fill="#000"/>
<polygon points="93.00,430.60 90.10,420.40 93.00,423.20 95.90,420.40" fill="#000"/>
<text x="86.2" y="410.8" font-size="16.3" text-anchor="middle" textLength="22.6" lengthAdjust="spacingAndGlyphs" transform="rotate(-90 86.2 410.8)">0.9</text>
<line x1="108.5" y1="431" x2="108.5" y2="461" stroke="#000" stroke-width="1.05"/>
<line x1="151.5" y1="434.5" x2="151.5" y2="461" stroke="#555" stroke-width="1.3"/>
<line x1="112.5" y1="456.5" x2="147.5" y2="456.5" stroke="#000" stroke-width="1.05"/>
<polygon points="109.10,456.50 119.30,453.60 116.50,456.50 119.30,459.40" fill="#000"/>
<polygon points="150.90,456.50 140.70,459.40 143.50,456.50 140.70,453.60" fill="#000"/>
<text x="130.6" y="452.0" font-size="16" text-anchor="middle" textLength="22.0" lengthAdjust="spacingAndGlyphs">1.0</text>
<line x1="135.5" y1="478.5" x2="225.8" y2="478.5" stroke="#000" stroke-width="1.05"/>
<polygon points="132.10,478.50 142.30,475.60 139.50,478.50 142.30,481.40" fill="#000"/>
<polygon points="229.20,478.50 219.00,481.40 221.80,478.50 219.00,475.60" fill="#000"/>
<text x="180.8" y="473.4" font-size="16" text-anchor="middle" textLength="22.3" lengthAdjust="spacingAndGlyphs">2.2</text>
<text x="87.1" y="321.6" font-size="15.3" text-anchor="start" textLength="17.4" lengthAdjust="spacingAndGlyphs">#1</text>
<text x="255.3" y="321.6" font-size="15.3" text-anchor="start" textLength="17.4" lengthAdjust="spacingAndGlyphs">#2</text>
<text x="87.1" y="446.8" font-size="15.3" text-anchor="start" textLength="17.4" lengthAdjust="spacingAndGlyphs">#4</text>
<text x="255.3" y="446.8" font-size="15.3" text-anchor="start" textLength="17.4" lengthAdjust="spacingAndGlyphs">#3</text>
<text x="428.8" y="43.5" font-size="17.6" text-anchor="start" textLength="202.3" lengthAdjust="spacingAndGlyphs">Terminal land connections</text>
<text x="482.5" y="63.6" font-size="17.6" text-anchor="start" textLength="95" lengthAdjust="spacingAndGlyphs">(TOP VIEW)</text>
<text x="680.5" y="30.5" font-size="18.2" text-anchor="start" textLength="33.2" lengthAdjust="spacingAndGlyphs">mm</text>
<rect x="455.5" y="74.5" width="149.2" height="124.9" fill="none" stroke="#000" stroke-width="1.2"/>
<clipPath id="c9"><path d="M455.5,74.5 L488.7,74.5 L488.7,105.4 L455.5,105.4 Z"/></clipPath>
<path d="M455.5,74.5 L488.7,74.5 L488.7,105.4 L455.5,105.4 Z" fill="#f4f4f4" stroke="none"/>
<path d="M422.80,106.40 L455.70,73.50 M426.40,106.40 L459.30,73.50 M430.00,106.40 L462.90,73.50 M433.60,106.40 L466.50,73.50 M437.20,106.40 L470.10,73.50 M440.80,106.40 L473.70,73.50 M444.40,106.40 L477.30,73.50 M448.00,106.40 L480.90,73.50 M451.60,106.40 L484.50,73.50 M455.20,106.40 L488.10,73.50 M458.80,106.40 L491.70,73.50 M462.40,106.40 L495.30,73.50 M466.00,106.40 L498.90,73.50 M469.60,106.40 L502.50,73.50 M473.20,106.40 L506.10,73.50 M476.80,106.40 L509.70,73.50 M480.40,106.40 L513.30,73.50 M484.00,106.40 L516.90,73.50 M487.60,106.40 L520.50,73.50 M491.20,106.40 L524.10,73.50" stroke="#000" stroke-width="0.95" fill="none" clip-path="url(#c9)"/>
<path d="M455.5,74.5 L488.7,74.5 L488.7,105.4 L455.5,105.4 Z" fill="none" stroke="#000" stroke-width="1.05"/>
<clipPath id="c10"><path d="M571.1,74.5 L604.7,74.5 L604.7,105.4 L571.1,105.4 Z"/></clipPath>
<path d="M571.1,74.5 L604.7,74.5 L604.7,105.4 L571.1,105.4 Z" fill="#f4f4f4" stroke="none"/>
<path d="M538.00,106.40 L570.90,73.50 M541.60,106.40 L574.50,73.50 M545.20,106.40 L578.10,73.50 M548.80,106.40 L581.70,73.50 M552.40,106.40 L585.30,73.50 M556.00,106.40 L588.90,73.50 M559.60,106.40 L592.50,73.50 M563.20,106.40 L596.10,73.50 M566.80,106.40 L599.70,73.50 M570.40,106.40 L603.30,73.50 M574.00,106.40 L606.90,73.50 M577.60,106.40 L610.50,73.50 M581.20,106.40 L614.10,73.50 M584.80,106.40 L617.70,73.50 M588.40,106.40 L621.30,73.50 M592.00,106.40 L624.90,73.50 M595.60,106.40 L628.50,73.50 M599.20,106.40 L632.10,73.50 M602.80,106.40 L635.70,73.50 M606.40,106.40 L639.30,73.50" stroke="#000" stroke-width="0.95" fill="none" clip-path="url(#c10)"/>
<path d="M571.1,74.5 L604.7,74.5 L604.7,105.4 L571.1,105.4 Z" fill="none" stroke="#000" stroke-width="1.05"/>
<clipPath id="c11"><path d="M455.5,167.3 L478.5,167.3 L488.7,177.5 L488.7,199.4 L455.5,199.4 Z"/></clipPath>
<path d="M455.5,167.3 L478.5,167.3 L488.7,177.5 L488.7,199.4 L455.5,199.4 Z" fill="#f4f4f4" stroke="none"/>
<path d="M418.80,200.40 L452.90,166.30 M422.40,200.40 L456.50,166.30 M426.00,200.40 L460.10,166.30 M429.60,200.40 L463.70,166.30 M433.20,200.40 L467.30,166.30 M436.80,200.40 L470.90,166.30 M440.40,200.40 L474.50,166.30 M444.00,200.40 L478.10,166.30 M447.60,200.40 L481.70,166.30 M451.20,200.40 L485.30,166.30 M454.80,200.40 L488.90,166.30 M458.40,200.40 L492.50,166.30 M462.00,200.40 L496.10,166.30 M465.60,200.40 L499.70,166.30 M469.20,200.40 L503.30,166.30 M472.80,200.40 L506.90,166.30 M476.40,200.40 L510.50,166.30 M480.00,200.40 L514.10,166.30 M483.60,200.40 L517.70,166.30 M487.20,200.40 L521.30,166.30 M490.80,200.40 L524.90,166.30" stroke="#000" stroke-width="0.95" fill="none" clip-path="url(#c11)"/>
<path d="M455.5,167.3 L478.5,167.3 L488.7,177.5 L488.7,199.4 L455.5,199.4 Z" fill="none" stroke="#000" stroke-width="1.05"/>
<clipPath id="c12"><path d="M571.1,168.5 L604.7,168.5 L604.7,199.4 L571.1,199.4 Z"/></clipPath>
<path d="M571.1,168.5 L604.7,168.5 L604.7,199.4 L571.1,199.4 Z" fill="#f4f4f4" stroke="none"/>
<path d="M537.60,200.40 L570.50,167.50 M541.20,200.40 L574.10,167.50 M544.80,200.40 L577.70,167.50 M548.40,200.40 L581.30,167.50 M552.00,200.40 L584.90,167.50 M555.60,200.40 L588.50,167.50 M559.20,200.40 L592.10,167.50 M562.80,200.40 L595.70,167.50 M566.40,200.40 L599.30,167.50 M570.00,200.40 L602.90,167.50 M573.60,200.40 L606.50,167.50 M577.20,200.40 L610.10,167.50 M580.80,200.40 L613.70,167.50 M584.40,200.40 L617.30,167.50 M588.00,200.40 L620.90,167.50 M591.60,200.40 L624.50,167.50 M595.20,200.40 L628.10,167.50 M598.80,200.40 L631.70,167.50 M602.40,200.40 L635.30,167.50 M606.00,200.40 L638.90,167.50" stroke="#000" stroke-width="0.95" fill="none" clip-path="url(#c12)"/>
<path d="M571.1,168.5 L604.7,168.5 L604.7,199.4 L571.1,199.4 Z" fill="none" stroke="#000" stroke-width="1.05"/>
<rect x="522.5" y="116.3" width="15.0" height="40.2" fill="none" stroke="#000" stroke-width="1.05"/>
<line x1="515.5" y1="123" x2="515.5" y2="150.5" stroke="#000" stroke-width="1.05"/>
<line x1="544.5" y1="123" x2="544.5" y2="150.5" stroke="#000" stroke-width="1.05"/>
<path d="M515.5,136.5 L500.5,136.5 L500.5,187.5 L488.7,187.5" fill="none" stroke="#000" stroke-width="1.05"/>
<path d="M544.5,136.5 L559.5,136.5 L559.5,95.5 L571.1,95.5" fill="none" stroke="#000" stroke-width="1.05"/>
<text x="428.5" y="87.6" font-size="15.3" text-anchor="start" textLength="17.4" lengthAdjust="spacingAndGlyphs">#4</text>
<text x="611.5" y="87.6" font-size="15.3" text-anchor="start" textLength="17.4" lengthAdjust="spacingAndGlyphs">#3</text>
<text x="428.5" y="198.5" font-size="15.3" text-anchor="start" textLength="17.4" lengthAdjust="spacingAndGlyphs">#1</text>
<text x="611.5" y="198.5" font-size="15.3" text-anchor="start" textLength="17.4" lengthAdjust="spacingAndGlyphs">#2</text>
<text x="454.8" y="229.4" font-size="13.5" text-anchor="start" textLength="239.5" lengthAdjust="spacingAndGlyphs">*#2 and #4 are connected with a cover.</text>
<text x="454.8" y="246.7" font-size="13.5" text-anchor="start" textLength="182.2" lengthAdjust="spacingAndGlyphs">(Please connect with a GND.)</text>
<text x="446" y="297.7" font-size="17.4" text-anchor="start" textLength="167.4" lengthAdjust="spacingAndGlyphs">Land pattern (Typical)</text>
<rect x="457.5" y="317.5" width="60.0" height="45.0" fill="none" stroke="#000" stroke-width="1.05"/>
<rect x="542.5" y="317.5" width="60.2" height="45.0" fill="none" stroke="#000" stroke-width="1.05"/>
<rect x="457.5" y="393.5" width="60.0" height="45.0" fill="none" stroke="#000" stroke-width="1.05"/>
<rect x="542.5" y="393.5" width="60.2" height="45.0" fill="none" stroke="#000" stroke-width="1.05"/>
<rect x="461.5" y="321.5" width="136.0" height="112.0" fill="none" stroke="#000" stroke-width="1.05" stroke-dasharray="6.2 3.5"/>
<line x1="488.3" y1="308" x2="488.3" y2="313.5" stroke="#000" stroke-width="1.05"/>
<line x1="488.3" y1="316.5" x2="488.3" y2="348.8" stroke="#000" stroke-width="1.05"/>
<line x1="572.7" y1="308" x2="572.7" y2="313.5" stroke="#000" stroke-width="1.05"/>
<line x1="572.7" y1="316.5" x2="572.7" y2="348.8" stroke="#000" stroke-width="1.05"/>
<line x1="488.3" y1="378" x2="488.3" y2="400.5" stroke="#000" stroke-width="1.05"/>
<line x1="488.3" y1="403.5" x2="488.3" y2="409" stroke="#000" stroke-width="1.05"/>
<line x1="573.2" y1="378" x2="573.2" y2="400.5" stroke="#000" stroke-width="1.05"/>
<line x1="573.2" y1="403.5" x2="573.2" y2="409" stroke="#000" stroke-width="1.05"/>
<line x1="488.3" y1="413" x2="488.3" y2="496.5" stroke="#000" stroke-width="1.05"/>
<line x1="573.2" y1="413" x2="573.2" y2="446" stroke="#000" stroke-width="1.05"/>
<line x1="573.2" y1="466.4" x2="573.2" y2="496" stroke="#000" stroke-width="1.05"/>
<line x1="453.5" y1="339.5" x2="525" y2="339.5" stroke="#000" stroke-width="1.05" stroke-dasharray="24 4 5.5 3.5"/>
<line x1="539" y1="339.5" x2="609" y2="339.5" stroke="#000" stroke-width="1.05" stroke-dasharray="24 4 5.5 3.5"/>
<line x1="453.5" y1="416.4" x2="525" y2="416.4" stroke="#000" stroke-width="1.05" stroke-dasharray="24 4 5.5 3.5"/>
<line x1="539" y1="416.4" x2="609" y2="416.4" stroke="#000" stroke-width="1.05" stroke-dasharray="24 4 5.5 3.5"/>
<line x1="603.2" y1="339.5" x2="658.3" y2="339.5" stroke="#555" stroke-width="1.3"/>
<line x1="635.3" y1="416.4" x2="658.3" y2="416.4" stroke="#000" stroke-width="1.05"/>
<line x1="655.5" y1="343.5" x2="655.5" y2="412.4" stroke="#000" stroke-width="1.05"/>
<polygon points="655.50,340.10 658.40,350.30 655.50,347.50 652.60,350.30" fill="#000"/>
<polygon points="655.50,415.80 652.60,405.60 655.50,408.40 658.40,405.60" fill="#000"/>
<text x="649.0" y="382.3" font-size="16.3" text-anchor="middle" textLength="22.6" lengthAdjust="spacingAndGlyphs" transform="rotate(-90 649.0 382.3)">1.6</text>
<line x1="605.2" y1="393.4" x2="634" y2="393.4" stroke="#555" stroke-width="1.3"/>
<line x1="605.2" y1="438.5" x2="634" y2="438.5" stroke="#000" stroke-width="1.05"/>
<line x1="631.5" y1="397.4" x2="631.5" y2="434.5" stroke="#000" stroke-width="1.05"/>
<polygon points="631.50,394.00 634.40,404.20 631.50,401.40 628.60,404.20" fill="#000"/>
<polygon points="631.50,437.90 628.60,427.70 631.50,430.50 634.40,427.70" fill="#000"/>
<text x="626.1" y="416.8" font-size="16.3" text-anchor="middle" textLength="22.6" lengthAdjust="spacingAndGlyphs" transform="rotate(-90 626.1 416.8)">1.2</text>
<line x1="543.2" y1="442" x2="543.2" y2="467.3" stroke="#000" stroke-width="1.05"/>
<line x1="603.2" y1="442" x2="603.2" y2="467.3" stroke="#555" stroke-width="1.3"/>
<line x1="547.2" y1="462.3" x2="599.2" y2="462.3" stroke="#000" stroke-width="1.05"/>
<polygon points="543.80,462.30 554.00,459.40 551.20,462.30 554.00,465.20" fill="#000"/>
<polygon points="602.60,462.30 592.40,465.20 595.20,462.30 592.40,459.40" fill="#000"/>
<text x="572.7" y="459.0" font-size="16" text-anchor="middle" textLength="21.8" lengthAdjust="spacingAndGlyphs">1.4</text>
<line x1="492.3" y1="492.4" x2="569.2" y2="492.4" stroke="#000" stroke-width="1.05"/>
<polygon points="488.90,492.40 499.10,489.50 496.30,492.40 499.10,495.30" fill="#000"/>
<polygon points="572.60,492.40 562.40,495.30 565.20,492.40 562.40,489.50" fill="#000"/>
<text x="533" y="489.0" font-size="16" text-anchor="middle" textLength="22.3" lengthAdjust="spacingAndGlyphs">2.2</text>
</svg>
</body></html>
